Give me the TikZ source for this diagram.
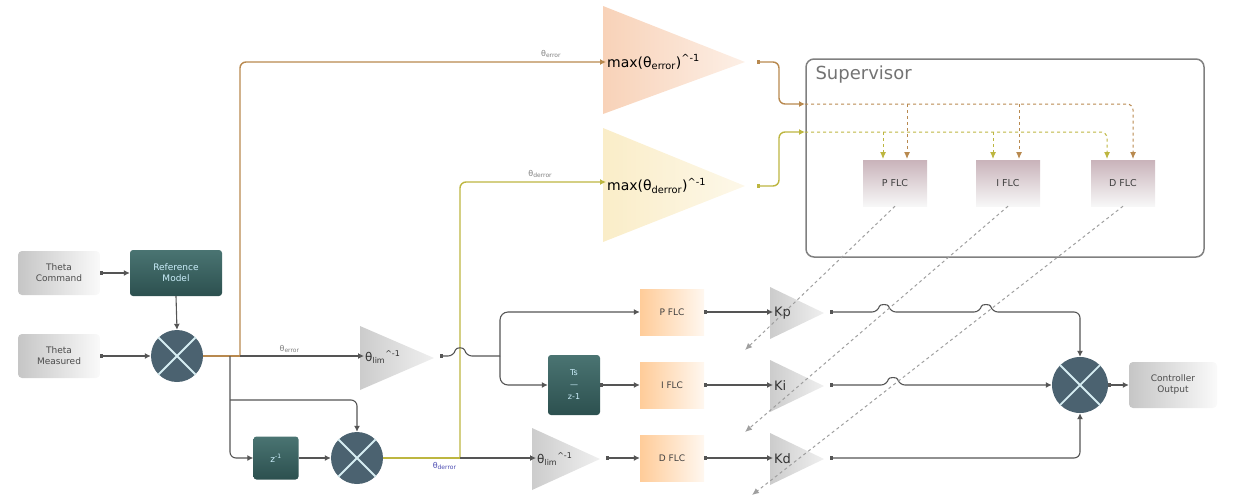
\documentclass[tikz,border=0pt]{standalone}
\usepackage{fontspec}
\setmainfont{DejaVu Sans}
\usetikzlibrary{arrows.meta}

\definecolor{linegray}{HTML}{555555}
\definecolor{errbrown}{HTML}{B8894F}
\definecolor{derryel}{HTML}{BDB640}
\definecolor{tealdark}{HTML}{2C504F}
\definecolor{tealmid}{HTML}{4A7472}
\definecolor{slate}{HTML}{4B6270}
\definecolor{salmon}{HTML}{F8D2B8}
\definecolor{cream}{HTML}{FAEDC8}
\definecolor{mauve}{HTML}{C9B3BA}
\definecolor{xcyan}{HTML}{D5EDF2}

\tikzset{
  conn/.style={draw=linegray, line width=1.1pt, rounded corners=6pt, -{Latex[length=6pt,width=6pt]}},
  sconn/.style={conn, {Square[length=3pt,width=4pt]}-{Latex[length=6pt,width=6pt]}},
  greybox/.style={rounded corners=4pt, left color=gray!45, right color=gray!4, minimum width=82, minimum height=44, align=center, text=black!70, font=\fontsize{9}{11}\selectfont},
  tealbox/.style={rounded corners=3pt, top color=tealmid, bottom color=tealdark, align=center, text=white!80!cyan, font=\fontsize{9}{11}\selectfont},
  flcbox/.style={left color=orange!40, right color=orange!6, minimum width=64, minimum height=46, text=black!75, font=\fontsize{9}{11}\selectfont},
  supflc/.style={top color=mauve, bottom color=gray!6, minimum width=64, minimum height=46, text=black!75, font=\fontsize{9.5}{11}\selectfont},
  sumnode/.style={circle, fill=slate, minimum size=52, inner sep=0pt},
  xline/.style={draw=xcyan, line width=1.8pt},
  gainlbl/.style={font=\fontsize{12}{14}\selectfont, inner sep=1pt, text=black!80},
  maxlbl/.style={font=\fontsize{14}{16}\selectfont, inner sep=1pt, anchor=west},
  sig/.style={font=\fontsize{8}{9}\selectfont, text=gray},
  errline/.style={draw=errbrown, line width=1.4pt, rounded corners=6pt},
  derrline/.style={draw=derryel, line width=1.4pt, rounded corners=6pt},
  setarrow/.style={draw=gray!75, dashed, line width=1pt, -{Latex[length=7pt,width=6pt]}},
}

\begin{document}
\begin{tikzpicture}[x=1pt,y=-1pt]
\useasboundingbox (0,0) rectangle (1233,501);

% triangles
\shade[left color=salmon, right color=salmon!35] (603,6) -- (603,114) -- (745,62) -- cycle;
\shade[left color=cream, right color=cream!40] (603,128) -- (603,242) -- (745,186) -- cycle;
\shade[left color=gray!40, right color=gray!12] (360,326) -- (360,390) -- (434,358) -- cycle;
\shade[left color=gray!40, right color=gray!12] (532,428) -- (532,490) -- (600,459) -- cycle;
\foreach \y in {312,385,458}
  \shade[left color=gray!40, right color=gray!12] (770,\y-25) -- (770,\y+27) -- (824,\y+1) -- cycle;

% supervisor
\node[draw=gray, line width=1.5pt, rounded corners=8pt, minimum width=398, minimum height=198] (sup) at (1005,158) {};
\node[anchor=west, text=black!55, font=\fontsize{18}{20}\selectfont] (suptitle) at (812,75) {Supervisor};
\node[supflc] (spflc) at (895,183) {P FLC};
\node[supflc] (siflc) at (1008,183) {I FLC};
\node[supflc] (sdflc) at (1123,183) {D FLC};

% blocks
\node[greybox] (cmd) at (59,273) {Theta\\Command};
\node[tealbox, minimum width=92, minimum height=46] (ref) at (176,273) {Reference\\Model};
\node[greybox] (meas) at (59,356) {Theta\\Measured};
\node[sumnode] (sum1) at (177,356) {};
\node[tealbox, minimum width=45, minimum height=43] (zinv) at (276,458) {z\textsuperscript{-1}};
\node[sumnode] (sum2) at (357,458) {};
\node[tealbox, minimum width=52, minimum height=60, font=\fontsize{8}{10}\selectfont] (tsblk) at (574,385) {Ts\\[2pt]—\\[2pt]z-1};
\node[flcbox] (pflc) at (672,312) {P FLC};
\node[flcbox] (iflc) at (672,385) {I FLC};
\node[flcbox] (dflc) at (672,458) {D FLC};
\node[sumnode, minimum size=56] (sum3) at (1080,385) {};
\node[greybox, minimum width=88, minimum height=46] (cout) at (1173,385) {Controller\\Output};

\foreach \s in {sum1,sum2,sum3}
  \draw[xline] (\s.north west) -- (\s.south east) (\s.north east) -- (\s.south west);

% labels in triangles
\node[maxlbl] (maxe) at (606,62) {max(θ\textsubscript{error})\textsuperscript{\textasciicircum-1}};
\node[maxlbl] (maxde) at (606,186) {max(θ\textsubscript{derror})\textsuperscript{\textasciicircum-1}};
\node[gainlbl, anchor=west] (lim1) at (364,357) {θ\textsubscript{lim}\textsuperscript{\textasciicircum-1}};
\node[gainlbl, anchor=west] (lim2) at (536,459) {θ\textsubscript{lim}\textsuperscript{\textasciicircum-1}};
\node[gainlbl, anchor=west, font=\fontsize{13}{15}\selectfont] (kp) at (773,313) {Kp};
\node[gainlbl, anchor=west, font=\fontsize{13}{15}\selectfont] (ki) at (773,386) {Ki};
\node[gainlbl, anchor=west, font=\fontsize{13}{15}\selectfont] (kd) at (773,459) {Kd};

\coordinate (ja) at (240,356);
\coordinate (jb) at (230,356);
\coordinate (jc) at (460,458);
\coordinate (fork) at (500,356);
\coordinate (supa) at (805,104);
\coordinate (supb) at (805,132);

% left part
\draw[sconn] (cmd.east) -- (ref.west);
\draw[conn] (ref.south) -- (sum1.north);
\draw[sconn] (meas.east) -- (sum1.west);
\draw[errbrown, line width=1.6pt] (sum1.east) -- (ja);
\draw[errline, -{Latex[length=6pt,width=6pt]}] (ja) -- (240,62) -- node[sig, above, pos=0.85] {θ\textsubscript{error}} (maxe.west |- 0,62);
\draw[conn] (ja) -- node[sig, above, pos=0.4] {θ\textsubscript{error}} (lim1.west |- ja);
\draw[conn] (jb) -- (230,458) -- (zinv.west);
\draw[conn] (230,400) -- (357,400) -- (sum2.north);
\draw[conn] (zinv.east) -- (sum2.west);
\draw[derrline] (sum2.east) -- node[sig, below, pos=0.8, text=blue!40!gray] {θ\textsubscript{derror}} (jc);
\draw[derrline, -{Latex[length=6pt,width=6pt]}] (jc) -- (460,182) -- node[sig, above, pos=0.55] {θ\textsubscript{derror}} (maxde.west |- 0,182);
\draw[conn] (jc) -- (lim2.west |- jc);

% middle
\draw[conn, {Square[length=3pt,width=4pt]}-] (440,356) -- (454,356) .. controls (456,347) and (464,347) .. (466,356) -- (fork);
\draw[conn, rounded corners=8pt] (fork) -- (500,312) -- (pflc.west);
\draw[conn, rounded corners=8pt] (fork) -- (500,385) -- (tsblk.west);
\draw[sconn] (tsblk.east) -- (iflc.west);
\draw[sconn] (606,458) -- (dflc.west);
\draw[sconn] (pflc.east) -- (kp.west |- pflc.east);
\draw[sconn] (iflc.east) -- (ki.west |- iflc.east);
\draw[sconn] (dflc.east) -- (kd.west |- dflc.east);

% gains to sum
\draw[sconn] (830,312) -- (878,312) .. controls (880,304) and (888,304) .. (890,312)
  -- (980,312) .. controls (982,304) and (990,304) .. (992,312) -- (1080,312) -- (sum3.north);
\draw[sconn] (830,385) -- (887,385) .. controls (889,377) and (897,377) .. (899,385) -- (sum3.west);
\draw[sconn] (830,458) -- (1080,458) -- (sum3.south);
\draw[sconn] (sum3.east) -- (cout.west);

% into supervisor
\draw[errline, {Square[length=3pt,width=4pt]}-{Latex[length=6pt,width=6pt]}] (757,62) -- (779,62) -- (779,104) -- (supa);
\draw[derrline, {Square[length=3pt,width=4pt]}-{Latex[length=6pt,width=6pt]}] (757,186) -- (779,186) -- (779,132) -- (supb);
\draw[errline, dashed, line width=1pt, -{Latex[length=7pt,width=6pt]}] (supa) -- (1133,104) -- (1133,159);
\draw[derrline, dashed, line width=1pt, -{Latex[length=7pt,width=6pt]}] (supb) -- (1107,132) -- (1107,159);
\foreach \x in {907,1019}
  \draw[errline, dashed, line width=1pt, -{Latex[length=7pt,width=6pt]}] (\x,104) -- (\x,159);
\foreach \x in {883,993}
  \draw[derrline, dashed, line width=1pt, -{Latex[length=7pt,width=6pt]}] (\x,132) -- (\x,159);

% gain settings
\coordinate (kpset) at (745,350);
\coordinate (kiset) at (745,432);
\coordinate (kdset) at (752,495);
\draw[setarrow] (spflc.south) -- (kpset);
\draw[setarrow] (siflc.south) -- (kiset);
\draw[setarrow] (sdflc.south) -- (kdset);
\end{tikzpicture}
\end{document}
